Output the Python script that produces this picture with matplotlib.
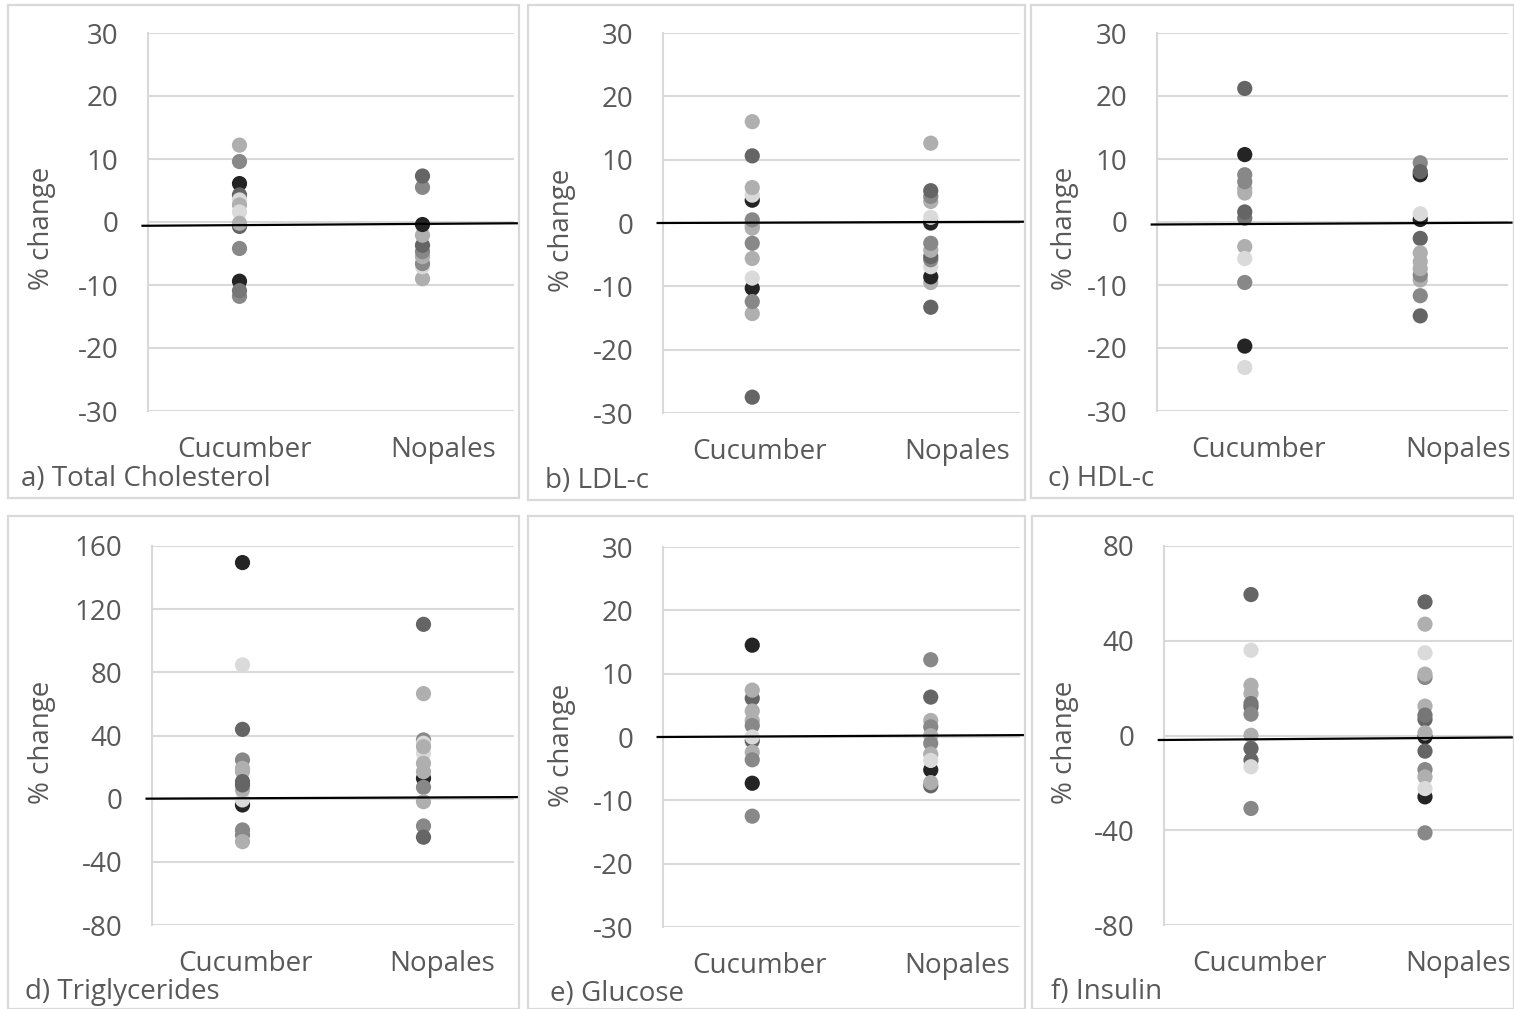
import matplotlib
matplotlib.use("Agg")
import matplotlib.pyplot as plt
from matplotlib.patches import Rectangle

plt.rcParams['font.family'] = ['Open Sans', 'DejaVu Sans']

# ---------------- DATA ----------------
categories = ["Cucumber", "Nopales"]
panel_titles = ["a) Total Cholesterol", "b) LDL-c", "c) HDL-c",
                "d) Triglycerides", "e) Glucose", "f) Insulin"]
ylabel_text = "% change"

yticks_a = [30, 20, 10, 0, -10, -20, -30]
yticks_b = [30, 20, 10, 0, -10, -20, -30]
yticks_c = [30, 20, 10, 0, -10, -20, -30]
yticks_d = [160, 120, 80, 40, 0, -40, -80]
yticks_e = [30, 20, 10, 0, -10, -20, -30]
yticks_f = [80, 40, 0, -40, -80]

# shade codes: 0 darkest ... 4 lightest, 5 = mid-dark
cuc_a = [12.2, 9.6, 6.1, 4.3, 3.5, 2.7, 1.6, -0.7, -0.2, -4.2, -9.4, -11.8, -10.9]
cuc_a_shade = [3, 2, 0, 1, 4, 3, 4, 1, 3, 2, 0, 2, 5]
nop_a = [5.5, 7.3, -9.0, -7.1, -6.6, -5.5, -4.7, -3.7, -2.1, -0.4]
nop_a_shade = [2, 1, 3, 4, 2, 3, 2, 1, 3, 0]

cuc_b = [16.0, 10.6, 3.6, 4.4, 5.6, -0.8, -0.3, 0.5, -3.2, -5.6, -10.3, -8.7, -14.3, -12.4, -27.5]
cuc_b_shade = [3, 1, 0, 4, 3, 3, 3, 2, 2, 3, 0, 4, 3, 2, 1]
nop_b = [12.6, 3.4, 4.2, 5.1, 0.0, 0.9, -9.4, -8.5, -6.9, -5.8, -5.3, -4.3, -3.2, -13.3]
nop_b_shade = [3, 3, 2, 1, 0, 4, 3, 0, 4, 2, 1, 3, 2, 1]

cuc_c = [21.2, 10.7, 4.6, 5.3, 6.4, 7.5, 0.6, 1.6, -3.9, -5.8, -9.6, -19.7, -23.1]
cuc_c_shade = [1, 0, 3, 3, 2, 2, 5, 1, 3, 4, 2, 0, 4]
nop_c = [7.5, 9.4, 8.0, 0.4, 1.3, -2.6, -9.2, -8.4, -7.4, -6.3, -4.9, -11.7, -14.9]
nop_c_shade = [0, 2, 1, 0, 4, 1, 3, 2, 3, 3, 3, 2, 1]

cuc_d = [149.5, 84.7, 43.9, 24.5, 17.1, 19.2, -4.0, -0.8, 5.5, 8.7, 10.8, -19.8, -23.0, -27.2]
cuc_d_shade = [0, 4, 1, 2, 3, 3, 0, 4, 3, 1, 1, 2, 2, 3]
nop_d = [110.4, 66.5, 37.2, 35.1, 28.7, 32.9, 22.4, 12.9, 17.1, 7.2, -1.9, -17.3, -24.4]
nop_d_shade = [1, 3, 2, 4, 4, 3, 3, 0, 3, 2, 3, 2, 1]

cuc_e = [14.5, 6.1, 7.4, 4.1, 2.6, 1.8, -0.6, 0.0, -2.4, -3.6, -7.3, -12.5]
cuc_e_shade = [0, 1, 3, 3, 3, 2, 1, 4, 3, 2, 0, 2]
nop_e = [12.2, 6.3, 2.6, 1.6, 0.2, -1.0, -2.7, -7.7, -5.2, -7.2, -3.7]
nop_e_shade = [2, 1, 3, 2, 3, 2, 3, 1, 0, 3, 4]

cuc_f = [59.5, 36.0, 21.2, 17.7, 12.1, 13.5, 9.0, 0.1, -10.4, -5.5, -13.2, -30.8]
cuc_f_shade = [1, 4, 3, 3, 1, 5, 2, 3, 1, 1, 4, 2]
nop_f = [56.4, 47.0, 34.9, 24.5, 25.9, 12.4, 6.8, 8.6, -0.6, 1.1, -6.6, -14.4, -25.9, -17.5, -22.4, -41.1]
nop_f_shade = [1, 3, 4, 2, 3, 3, 1, 5, 0, 3, 1, 2, 0, 3, 4, 2]

# reference (trend) line values at left / right edge
trend_left = [-0.6, 0.0, -0.4, 0.0, 0.0, -1.9]
trend_right = [-0.2, 0.2, -0.1, 1.0, 0.3, -0.8]

# ---------------- STYLE / LAYOUT ----------------
W, H = 1514, 1009
shades = ['#242424', '#656565', '#888888', '#afafaf', '#dadada', '#767676']
text_col = '#595959'
grid_col = '#d9d9d9'
fs = 20

fig = plt.figure(figsize=(W / 100, H / 100), dpi=100)

# axes rectangles in pixels: left, right, top, bottom
ax_px = [(148, 514, 33, 411), (663, 1020, 33, 413), (1157, 1508, 33, 411),
         (152, 514, 546, 925), (663, 1020, 547, 927), (1164, 1512, 546, 925)]
box_px = [(8, 519, 5, 498), (528, 1025, 5, 500), (1031, 1514, 5, 498),
          (8, 519, 516, 1009), (528, 1025, 516, 1009), (1032, 1514, 516, 1009)]
title_px = [(21, 479), (545, 481), (1048, 479), (25, 992), (550, 994), (1051, 992)]
ylabel_px = [(42, 228), (562, 230), (1065, 228), (42, 742), (562, 745), (1065, 742)]
label_pos = [(0.03, 1.11), (0.04, 1.15), (0.08, 1.215),
             (0.015, 1.105), (0.038, 1.15), (0.05, 1.19)]

data = [(cuc_a, cuc_a_shade, nop_a, nop_a_shade, yticks_a),
        (cuc_b, cuc_b_shade, nop_b, nop_b_shade, yticks_b),
        (cuc_c, cuc_c_shade, nop_c, nop_c_shade, yticks_c),
        (cuc_d, cuc_d_shade, nop_d, nop_d_shade, yticks_d),
        (cuc_e, cuc_e_shade, nop_e, nop_e_shade, yticks_e),
        (cuc_f, cuc_f_shade, nop_f, nop_f_shade, yticks_f)]

for i, (cv, cs, nv, ns, yt) in enumerate(data):
    bl, br, bt, bb = box_px[i]
    fig.patches.append(Rectangle((bl / W, 1 - bb / H), (br - bl) / W, (bb - bt) / H,
                                 transform=fig.transFigure, fill=False,
                                 edgecolor=grid_col, linewidth=1.6))
    l, r, t, b = ax_px[i]
    ax = fig.add_axes([l / W, 1 - b / H, (r - l) / W, (b - t) / H])
    ax.set_xlim(-0.5, 1.5)
    ax.set_ylim(min(yt), max(yt))
    ax.set_yticks(yt)
    ax.set_yticklabels([str(v) for v in yt])
    ax.yaxis.grid(True, color=grid_col, linewidth=1.5)
    ax.set_axisbelow(True)
    for s in ['top', 'right', 'bottom']:
        ax.spines[s].set_visible(False)
    ax.spines['left'].set_color(grid_col)
    ax.spines['left'].set_linewidth(1.5)
    ax.tick_params(axis='y', length=0, pad=21.5, labelsize=fs, labelcolor=text_col)
    ax.set_xticks(list(label_pos[i]))
    ax.set_xticklabels(categories)
    ax.tick_params(axis='x', length=0, pad=18, labelsize=fs, labelcolor=text_col)

    ax.scatter([0] * len(cv), cv, s=120, c=[shades[k] for k in cs],
               linewidths=0, zorder=3, clip_on=False)
    ax.scatter([1] * len(nv), nv, s=120, c=[shades[k] for k in ns],
               linewidths=0, zorder=3, clip_on=False)
    ax.plot([-0.53, 1.52], [trend_left[i], trend_right[i]], color='black',
            linewidth=1.6, zorder=4, clip_on=False)

    tx, ty = title_px[i]
    fig.text(tx / W, 1 - ty / H, panel_titles[i], fontsize=fs, color=text_col,
             ha='left', va='center')
    yx, yy = ylabel_px[i]
    fig.text(yx / W, 1 - yy / H, ylabel_text, fontsize=fs, color=text_col,
             rotation=90, ha='center', va='center')

fig.savefig('out.png', dpi=100)
